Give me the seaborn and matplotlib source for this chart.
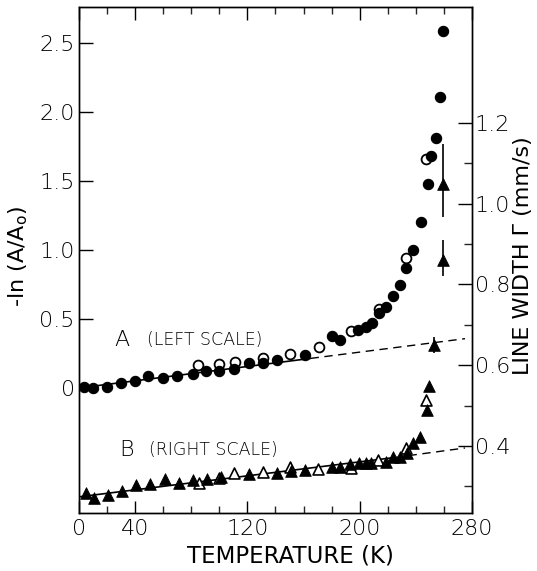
import numpy as np
import pandas as pd
import matplotlib
matplotlib.use("Agg")
import matplotlib.pyplot as plt
from matplotlib.ticker import FixedLocator, MultipleLocator
import seaborn as sns

# ---------------- data ----------------
# Series A (left scale): -ln(A/Ao)
a_filled_T = [3.6, 10, 20, 30, 40, 49.5, 60, 70, 81, 90.5, 100, 110.7, 121, 131, 141,
              161, 180.5, 186, 199, 204.5, 208.5, 214, 219, 224, 228.5, 233, 238,
              243.5, 248.5, 251, 254, 257, 259]
a_filled_v = [0.005, 0.0, 0.005, 0.038, 0.05, 0.087, 0.07, 0.087, 0.10, 0.125, 0.125,
              0.14, 0.18, 0.18, 0.20, 0.24, 0.38, 0.35, 0.42, 0.44, 0.47, 0.54, 0.59,
              0.67, 0.75, 0.87, 1.0, 1.2, 1.48, 1.68, 1.81, 2.11, 2.59]
a_open_T = [85, 99.5, 111, 131, 150.5, 171, 194, 214, 233, 247.5]
a_open_v = [0.167, 0.174, 0.19, 0.215, 0.25, 0.30, 0.415, 0.57, 0.94, 1.66]

# Series B (right scale): line width (mm/s)
b_filled_T = [4.8, 10.7, 21, 30.5, 41, 50.5, 61.4, 71, 81, 91.2, 101.2, 121, 141, 151,
              161, 180.5, 185.7, 192.9, 199.5, 204.3, 208.3, 218.6, 223.8, 229, 233.8,
              238, 242.9, 248, 249, 253, 259, 259]
b_filled_v = [0.283, 0.270, 0.279, 0.289, 0.303, 0.306, 0.318, 0.308, 0.316, 0.318,
              0.324, 0.331, 0.334, 0.338, 0.341, 0.347, 0.347, 0.355, 0.357, 0.359,
              0.359, 0.361, 0.373, 0.372, 0.382, 0.407, 0.423, 0.489, 0.549, 0.65,
              0.86, 1.05]
b_open_T = [85.7, 99.5, 110.7, 131, 150.5, 170, 194, 213, 233.3, 247]
b_open_v = [0.309, 0.320, 0.334, 0.336, 0.348, 0.342, 0.345, 0.365, 0.394, 0.515]

# error bars on B (right scale)
b_err_T = [253, 259, 259]
b_err_lo = [0.63, 0.82, 0.966]
b_err_hi = [0.67, 0.91, 1.147]

# fitted lines
fitA_solid_T = [0, 165]
fitA_solid_v = [0.0, 0.2145]
fitA_dash_T = [165, 275]
fitA_dash_v = [0.2145, 0.3575]
fitB_solid_T = [0, 225]
fitB_solid_v = [0.274, 0.3715]
fitB_dash_T = [225, 275]
fitB_dash_v = [0.3715, 0.395]

x_ticks = [0, 40, 120, 200, 280]
x_ticklabels = ["0", "40", "120", "200", "280"]
left_ticks = [0, 0.5, 1.0, 1.5, 2.0, 2.5]
left_ticklabels = ["0", "0.5", "1.0", "1.5", "2.0", "2.5"]
right_ticks = [0.4, 0.6, 0.8, 1.0, 1.2]
right_ticklabels = ["0.4", "0.6", "0.8", "1.0", "1.2"]
right_minor = [0.3, 0.5, 0.7, 0.9, 1.1]

# ---------------- style ----------------
sns.set_theme(style="white")
plt.rcParams["font.family"] = ["DejaVu Sans"]
plt.rcParams["font.weight"] = "light"

fig = plt.figure(figsize=(5.37, 5.71), dpi=100)
ax = fig.add_axes([0.147, 0.1016, 0.732, 0.886])
ax2 = ax.twinx()

K = "black"
# A lines
sns.lineplot(x=fitA_solid_T, y=fitA_solid_v, ax=ax, color=K, lw=1.2)
sns.lineplot(x=fitA_dash_T, y=fitA_dash_v, ax=ax, color=K, lw=1.0, linestyle=(0, (6, 4)))
# A markers
sns.scatterplot(x=a_filled_T, y=a_filled_v, ax=ax, marker="o", s=55, color=K,
                edgecolor=K, linewidth=0.8, zorder=5)
sns.scatterplot(x=a_open_T, y=a_open_v, ax=ax, marker="o", s=50, facecolor="white",
                edgecolor=K, linewidth=1.3, zorder=4)

# B lines
sns.lineplot(x=fitB_solid_T, y=fitB_solid_v, ax=ax2, color=K, lw=1.2)
sns.lineplot(x=fitB_dash_T, y=fitB_dash_v, ax=ax2, color=K, lw=1.0, linestyle=(0, (6, 4)))
ax2.vlines(b_err_T, b_err_lo, b_err_hi, color=K, lw=1.2)
sns.scatterplot(x=b_filled_T, y=b_filled_v, ax=ax2, marker="^", s=70, color=K,
                edgecolor=K, linewidth=0.6, zorder=5)
sns.scatterplot(x=b_open_T, y=b_open_v, ax=ax2, marker="^", s=62, facecolor="white",
                edgecolor=K, linewidth=1.2, zorder=4)

# ---------------- axes ----------------
ax.set_xlim(0, 280)
ax.set_ylim(-0.906, 2.761)
ax2.set_ylim(0.234, 1.487)

ax.xaxis.set_major_locator(FixedLocator(x_ticks))
ax.set_xticklabels(x_ticklabels)
ax.xaxis.set_minor_locator(MultipleLocator(20))
ax.set_yticks(left_ticks)
ax.set_yticklabels(left_ticklabels)
ax2.set_yticks(right_ticks)
ax2.set_yticklabels(right_ticklabels)
ax2.yaxis.set_minor_locator(FixedLocator(right_minor))

for a in (ax, ax2):
    for sp in a.spines.values():
        sp.set_color(K)
        sp.set_linewidth(1.0)
        sp.set_visible(True)

ax.tick_params(axis="x", which="major", direction="in", length=9, width=1.0,
               top=True, bottom=True, labelsize=16, pad=4, colors=K)
ax.tick_params(axis="x", which="minor", direction="in", length=5, width=1.0,
               top=True, bottom=True)
ax.tick_params(axis="y", which="major", direction="in", length=10, width=1.0,
               left=True, right=False, labelsize=16, pad=3, colors=K)
ax2.tick_params(axis="y", which="major", direction="in", length=10, width=1.0,
                right=True, left=False, labelsize=16, pad=2, colors=K)
ax2.tick_params(axis="y", which="minor", direction="in", length=6, width=1.0,
                right=True, left=False)

ax.set_xlabel("TEMPERATURE (K)", fontsize=16.5, color=K)
ax.xaxis.set_label_coords(0.538, -0.062)
ax.set_ylabel("-ln (A/A$_\\mathregular{o}$)", fontsize=16, color=K)
ax.yaxis.set_label_coords(-0.125, 0.508)
ax2.set_ylabel("LINE WIDTH Γ (mm/s)", fontsize=16, color=K, rotation=90)
ax2.yaxis.set_label_coords(1.103, 0.508)

ax.text(30.7, 0.348, "A", fontsize=16, color=K, ha="center", va="center")
ax.text(48.5, 0.348, "(LEFT SCALE)", fontsize=12.5, color=K, ha="left", va="center")
ax.text(34, -0.449, "B", fontsize=16, color=K, ha="center", va="center")
ax.text(50, -0.449, "(RIGHT SCALE)", fontsize=12.5, color=K, ha="left", va="center")

fig.savefig("out.png", dpi=100)
